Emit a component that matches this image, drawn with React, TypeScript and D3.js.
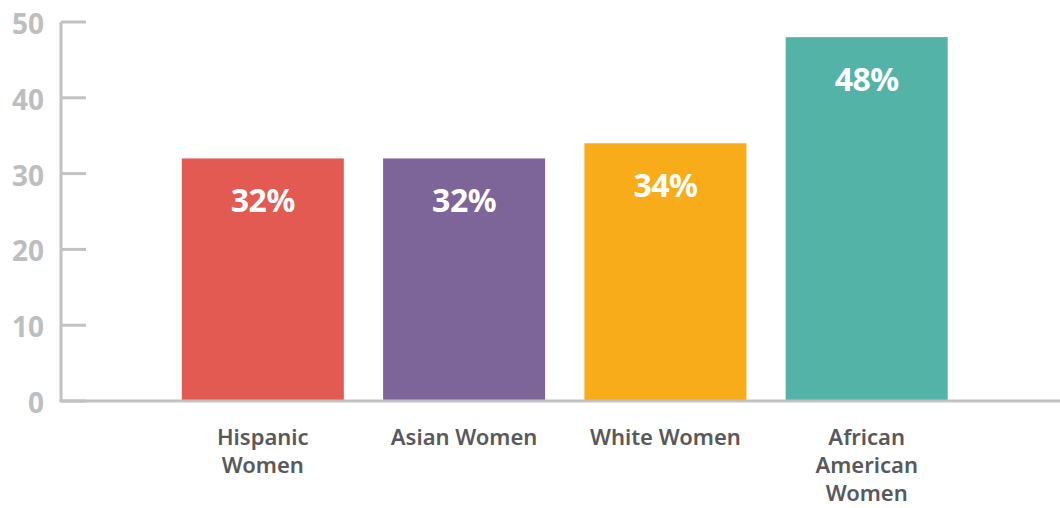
import React from "react";
import * as d3 from "d3";

const categories: string[][] = [
  ["Hispanic", "Women"],
  ["Asian Women"],
  ["White Women"],
  ["African", "American", "Women"],
];
const values: number[] = [32, 32, 34, 48];
const colors: string[] = ["#E35A52", "#7D6499", "#F9AC1A", "#52B3A6"];
const ticks: number[] = [0, 10, 20, 30, 40, 50];

const W = 1060;
const H = 508;

export default function App() {
  const keys = categories.map((c) => c.join(" "));
  const y = d3.scaleLinear().domain([0, 50]).range([401, 22]);
  const x = d3
    .scaleBand<string>()
    .domain(keys)
    .range([61, 1068.5])
    .paddingInner(0.195)
    .paddingOuter(0.6);
  const font = "'Noto Sans', 'Open Sans', sans-serif";
  return (
    <svg
      width={W}
      height={H}
      style={{ position: "absolute", left: 0, top: 0 }}
      fontFamily={font}
    >
      {keys.map((k, i) => (
        <g key={k}>
          <rect
            x={x(k)}
            y={y(values[i])}
            width={x.bandwidth()}
            height={y(0) - y(values[i])}
            fill={colors[i]}
          />
          <text
            x={(x(k) as number) + x.bandwidth() / 2}
            y={y(values[i]) + 54}
            textAnchor="middle"
            fill="#fff"
            fontWeight={700}
            fontSize={32}
            letterSpacing={-0.5}
          >
            {values[i]}%
          </text>
          {categories[i].map((line, j) => (
            <text
              key={j}
              x={(x(k) as number) + x.bandwidth() / 2}
              y={445 + j * 28}
              textAnchor="middle"
              fill="#58595b"
              fontWeight={600}
              fontSize={22}
            >
              {line}
            </text>
          ))}
        </g>
      ))}
      <line x1={61} x2={61} y1={y(50)} y2={y(0)} stroke="#c2c2c2" strokeWidth={3} />
      <line x1={59.5} x2={W} y1={y(0)} y2={y(0)} stroke="#c2c2c2" strokeWidth={3} />
      {ticks.map((t) => (
        <g key={t}>
          <line x1={61} x2={86} y1={y(t)} y2={y(t)} stroke="#c2c2c2" strokeWidth={3} />
          <text
            x={44}
            y={y(t) + 12}
            textAnchor="end"
            fill="#bdbec0"
            fontWeight={700}
            fontSize={28}
          >
            {t}
          </text>
        </g>
      ))}
    </svg>
  );
}
